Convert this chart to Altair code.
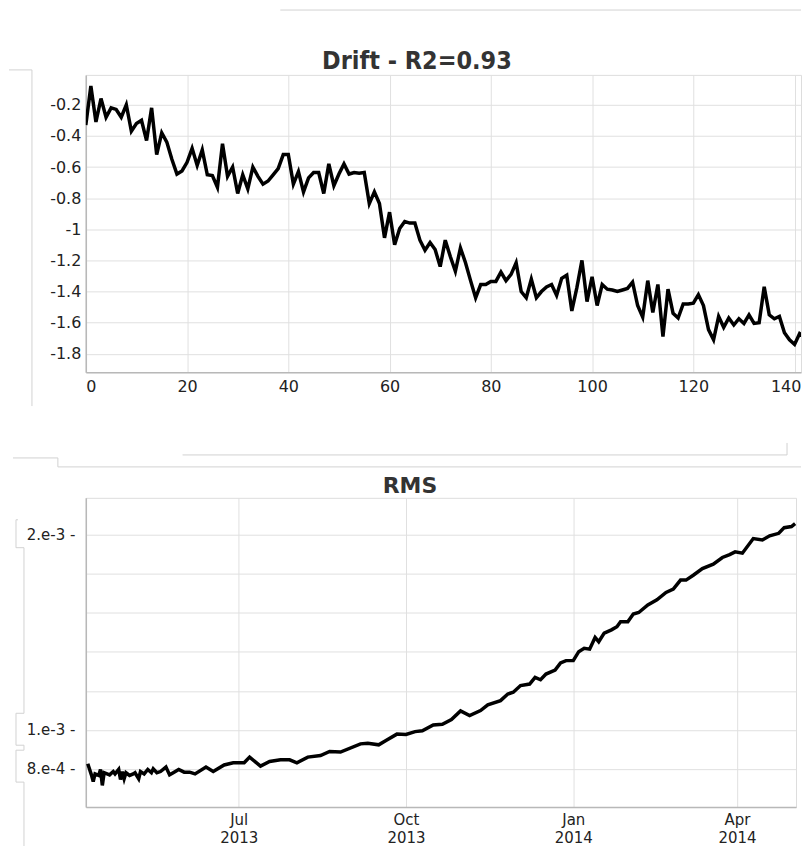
import altair as alt
import pandas as pd

# ---------------- data: Drift ----------------
cycle = list(range(0, 144))
drift = [
    -0.33, -0.08, -0.31, -0.16, -0.28, -0.22, -0.23, -0.28, -0.20, -0.37,
    -0.32, -0.30, -0.43, -0.22, -0.52, -0.38, -0.44, -0.55, -0.645, -0.625,
    -0.57, -0.48, -0.59, -0.49, -0.65, -0.655, -0.73, -0.45, -0.66, -0.60,
    -0.77, -0.65, -0.74, -0.60, -0.66, -0.71, -0.69, -0.65, -0.61, -0.52,
    -0.52, -0.71, -0.63, -0.76, -0.67, -0.635, -0.635, -0.77, -0.58, -0.72,
    -0.645, -0.58, -0.645, -0.635, -0.64, -0.635, -0.835, -0.76, -0.835, -1.055,
    -0.89, -1.10, -0.995, -0.95, -0.96, -0.96, -1.07, -1.135, -1.085, -1.13,
    -1.24, -1.07, -1.175, -1.27, -1.12, -1.215, -1.33, -1.44, -1.355, -1.355,
    -1.335, -1.335, -1.275, -1.33, -1.29, -1.215, -1.40, -1.44, -1.32, -1.44,
    -1.40, -1.37, -1.355, -1.425, -1.315, -1.295, -1.525, -1.375, -1.20, -1.465,
    -1.305, -1.49, -1.355, -1.385, -1.39, -1.40, -1.39, -1.38, -1.34, -1.49,
    -1.565, -1.33, -1.535, -1.355, -1.69, -1.385, -1.54, -1.57, -1.48, -1.48,
    -1.475, -1.42, -1.49, -1.645, -1.71, -1.56, -1.63, -1.57, -1.615, -1.575,
    -1.605, -1.55, -1.605, -1.60, -1.37, -1.55, -1.575, -1.56, -1.665, -1.71,
    -1.74, -1.67, -1.69, -1.71,
]
drift_ticks_x = [0, 20, 40, 60, 80, 100, 120, 140]
drift_ticks_y = [-1.8, -1.6, -1.4, -1.2, -1.0, -0.8, -0.6, -0.4, -0.2]
drift_title = "Drift - R2=0.93"

# ---------------- data: RMS ----------------
rms_dates = [
    "2013-04-09", "2013-04-11", "2013-04-12", "2013-04-13", "2013-04-15", "2013-04-16",
    "2013-04-17", "2013-04-18", "2013-04-21", "2013-04-23", "2013-04-24", "2013-04-26",
    "2013-04-27", "2013-04-28", "2013-04-29", "2013-04-30", "2013-05-02", "2013-05-04",
    "2013-05-05", "2013-05-07", "2013-05-08", "2013-05-10", "2013-05-12", "2013-05-14",
    "2013-05-15", "2013-05-17", "2013-05-19", "2013-05-22", "2013-05-24", "2013-05-26",
    "2013-05-29", "2013-06-01", "2013-06-04", "2013-06-07", "2013-06-13", "2013-06-17",
    "2013-06-23", "2013-06-28", "2013-07-04", "2013-07-07", "2013-07-13", "2013-07-18",
    "2013-07-24", "2013-07-29", "2013-08-02", "2013-08-08", "2013-08-15", "2013-08-20",
    "2013-08-26", "2013-09-06", "2013-09-10", "2013-09-16", "2013-09-20", "2013-09-26",
    "2013-10-01", "2013-10-06", "2013-10-10", "2013-10-16", "2013-10-21", "2013-10-26",
    "2013-10-31", "2013-11-05", "2013-11-11", "2013-11-15", "2013-11-22", "2013-11-26",
    "2013-11-29", "2013-12-03", "2013-12-08", "2013-12-11", "2013-12-14", "2013-12-17",
    "2013-12-22", "2013-12-25", "2013-12-28", "2014-01-01", "2014-01-04", "2014-01-07",
    "2014-01-10", "2014-01-13", "2014-01-15", "2014-01-18", "2014-01-22", "2014-01-25",
    "2014-01-27", "2014-01-31", "2014-02-03", "2014-02-06", "2014-02-11", "2014-02-16",
    "2014-02-21", "2014-02-25", "2014-03-01", "2014-03-04", "2014-03-08", "2014-03-13",
    "2014-03-19", "2014-03-24", "2014-03-28", "2014-03-31", "2014-04-04", "2014-04-10",
    "2014-04-15", "2014-04-19", "2014-04-24", "2014-04-27", "2014-05-01", "2014-05-03",
]
rms_values = [
    8.26e-4, 7.69e-4, 7.35e-4, 7.74e-4, 7.66e-4, 7.97e-4,
    7.15e-4, 7.80e-4, 7.69e-4, 7.86e-4, 7.74e-4, 7.97e-4,
    7.45e-4, 7.86e-4, 7.49e-4, 7.80e-4, 7.66e-4, 7.74e-4,
    7.80e-4, 7.49e-4, 7.86e-4, 7.74e-4, 7.97e-4, 7.80e-4,
    8.00e-4, 7.80e-4, 7.86e-4, 8.09e-4, 7.69e-4, 7.80e-4,
    7.97e-4, 7.83e-4, 7.83e-4, 7.74e-4, 8.09e-4, 7.86e-4,
    8.20e-4, 8.31e-4, 8.31e-4, 8.60e-4, 8.14e-4, 8.38e-4,
    8.46e-4, 8.46e-4, 8.31e-4, 8.60e-4, 8.68e-4, 8.89e-4,
    8.86e-4, 9.28e-4, 9.31e-4, 9.23e-4, 9.45e-4, 9.78e-4,
    9.76e-4, 9.91e-4, 9.95e-4, 1.025e-3, 1.029e-3, 1.053e-3,
    1.097e-3, 1.073e-3, 1.099e-3, 1.128e-3, 1.150e-3, 1.184e-3,
    1.193e-3, 1.227e-3, 1.235e-3, 1.269e-3, 1.257e-3, 1.286e-3,
    1.307e-3, 1.343e-3, 1.355e-3, 1.355e-3, 1.401e-3, 1.418e-3,
    1.414e-3, 1.474e-3, 1.452e-3, 1.496e-3, 1.513e-3, 1.529e-3,
    1.554e-3, 1.554e-3, 1.594e-3, 1.602e-3, 1.641e-3, 1.667e-3,
    1.705e-3, 1.722e-3, 1.768e-3, 1.768e-3, 1.793e-3, 1.827e-3,
    1.850e-3, 1.884e-3, 1.899e-3, 1.913e-3, 1.906e-3, 1.981e-3,
    1.974e-3, 1.995e-3, 2.008e-3, 2.037e-3, 2.043e-3, 2.058e-3,
]
rms_grid = [0.0008, 0.001, 0.0012, 0.0014, 0.0016, 0.0018, 0.002]
rms_title = "RMS"

drift_df = pd.DataFrame({"cycle": cycle, "drift": drift})
rms_df = pd.DataFrame({"date": rms_dates, "rms": rms_values})

FONT = "DejaVu Sans"
GRID = "#e0e0e0"
DOMAIN = "#b8b8b8"
DECO = "#d2d2d2"
ONE = alt.Data(values=[{"k": 0}])


def seg(x1, y1, x2, y2):
    return alt.Chart(ONE).mark_rule(color=DECO, strokeWidth=1).encode(
        x=alt.value(x1), x2=alt.value(x2), y=alt.value(y1), y2=alt.value(y2)
    )


def title_text(text, x, y, font, size):
    return alt.Chart(ONE).mark_text(
        font=font, fontSize=size, fontWeight="bold", color="#333",
        align="center", baseline="alphabetic",
    ).encode(x=alt.value(x), y=alt.value(y), text=alt.value(text))


# ---------------- top chart ----------------
TOP_W, TOP_H = 717, 298
top_line = alt.Chart(drift_df).mark_line(color="black", strokeWidth=3.5, clip=True).encode(
    x=alt.X(
        "cycle:Q",
        scale=alt.Scale(domain=[0, 141.27], nice=False, zero=False),
        axis=alt.Axis(
            values=drift_ticks_x, title=None, ticks=False, grid=True, gridColor=GRID,
            domainColor=DOMAIN, domainWidth=1.5, labelFont=FONT, labelFontSize=16,
            labelColor="#222", labelPadding=6,
            labelOffset={"condition": {"test": "datum.value == 140", "value": -9}, "value": 0},
        ),
    ),
    y=alt.Y(
        "drift:Q",
        scale=alt.Scale(domain=[-1.918, -0.008], nice=False, zero=False),
        axis=alt.Axis(
            values=drift_ticks_y, title=None, ticks=False, grid=True, gridColor=GRID,
            domainColor=DOMAIN, domainWidth=1.5, labelFont=FONT, labelFontSize=16,
            labelColor="#222", labelPadding=5,
            labelExpr="'' + round(datum.value * 10) / 10",
        ),
    ),
)
top_deco = [
    seg(195, -65, 717, -65),
    seg(-77, -5, -54, -5),
    seg(-54, -5, -54, 332),
    title_text(drift_title, 332, -6, "DejaVu Sans Condensed, Open Sans", 25),
]
top = alt.layer(top_line, *top_deco).properties(width=TOP_W, height=TOP_H)

# ---------------- bottom chart ----------------
BOT_W, BOT_H = 712, 310
month_ticks = [
    alt.DateTime(year=2013, month=7, date=1, utc=True),
    alt.DateTime(year=2013, month=10, date=1, utc=True),
    alt.DateTime(year=2014, month=1, date=1, utc=True),
    alt.DateTime(year=2014, month=4, date=1, utc=True),
]
bot_line = alt.Chart(rms_df).mark_line(color="black", strokeWidth=3.5).encode(
    x=alt.X(
        "date:T",
        scale=alt.Scale(
            type="utc",
            domain=[
                alt.DateTime(year=2013, month=4, date=7, hours=22, utc=True),
                alt.DateTime(year=2014, month=5, date=3, hours=12, utc=True),
            ],
            nice=False,
        ),
        axis=alt.Axis(
            values=month_ticks, title=None, ticks=False, grid=True, gridColor=GRID,
            domainColor=DOMAIN, domainWidth=1.5, labelFont=FONT, labelFontSize=15,
            labelColor="#222", labelPadding=5, labelLineHeight=19,
            labelExpr="[utcFormat(datum.value, '%b'), utcFormat(datum.value, '%Y')]",
        ),
    ),
    y=alt.Y(
        "rms:Q",
        scale=alt.Scale(domain=[0.000604, 0.00219], nice=False, zero=False),
        axis=alt.Axis(
            values=rms_grid, title=None, ticks=False, grid=True, gridColor=GRID,
            domainColor=DOMAIN, domainWidth=1.5, labelFont=FONT, labelFontSize=15,
            labelColor="#222", labelPadding=11,
            labelExpr=(
                "abs(datum.value - 0.002) < 1e-7 ? '2.e-3 -' : "
                "abs(datum.value - 0.001) < 1e-7 ? '1.e-3 -' : "
                "abs(datum.value - 0.0008) < 1e-7 ? '8.e-4 -' : ''"
            ),
        ),
    ),
)
bot_deco = [
    seg(97, -43, 703, -43),
    seg(703, -55, 703, -43),
    seg(-73, -40, -28, -40),
    seg(-28, -40, -28, -31),
    seg(-28, -31, 717, -31),
    seg(-70, 22, -68, 22),
    seg(-70, 22, -70, 50),
    seg(-70, 50, -62, 50),
    seg(-62, 50, -62, 216),
    seg(-62, 216, -70, 216),
    seg(-70, 216, -70, 248),
    seg(-70, 248, -62, 248),
    seg(-62, 248, -62, 253),
    seg(-62, 253, -70, 253),
    seg(-70, 253, -70, 285),
    seg(-70, 285, -62, 285),
    seg(-62, 285, -62, 350),
    title_text(rms_title, 325, -5, FONT, 22),
]
bottom = alt.layer(bot_line, *bot_deco).properties(width=BOT_W, height=BOT_H)

chart = alt.vconcat(top, bottom, spacing=35).properties(
    padding={"left": 0, "top": 0, "right": 0, "bottom": 0}
).configure_view(strokeWidth=0).configure(background="white")

chart.save("out.html", embed_options={"renderer": "svg", "actions": False})
